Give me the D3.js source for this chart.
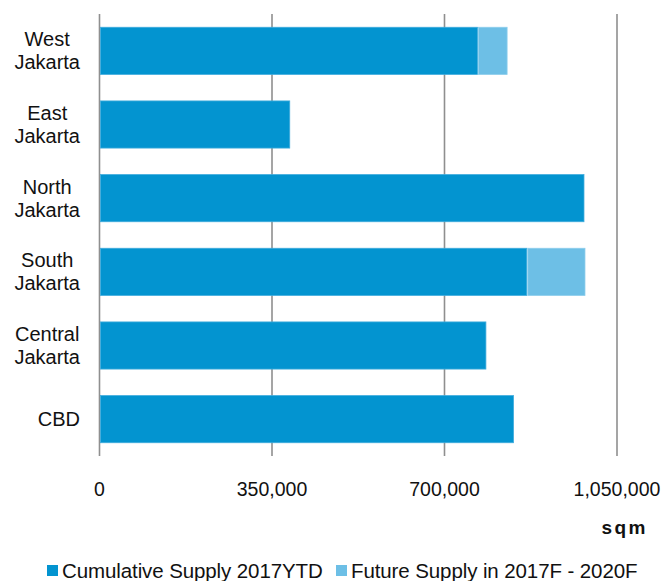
<!DOCTYPE html>
<html lang="en">
<head>
<meta charset="UTF-8">
<title>Jakarta Supply</title>
<script src="https://d3js.org/d3.v7.min.js"></script>
<style>
  body { margin: 0; background: #fff; font-family: 'Liberation Sans', Arial, sans-serif; }
  svg text { fill: #111; }
</style>
</head>
<body>
<svg id="chart" width="663" height="581"></svg>
<script>
// data
let regions = ['West Jakarta', 'East Jakarta', 'North Jakarta', 'South Jakarta', 'Central Jakarta', 'CBD']
let cumulative = [767000, 386000, 983000, 867000, 784000, 840000]
let future = [58000, 0, 0, 116000, 0, 0]
let xTicks = [0, 350000, 700000, 1050000]
let seriesNames = ['Cumulative Supply 2017YTD', 'Future Supply in 2017F - 2020F']
let colors = ['#0394d0', '#6dbfe6']

let svg = d3.select('#chart')
let margin = {left: 99.5, right: 46, top: 14, bottom: 125}
let width = 663, height = 581

let x = d3.scaleLinear()
    .domain([0, 1050000])
    .range([margin.left, width - margin.right])
let y = d3.scaleBand()
    .domain(regions)
    .range([margin.top, height - margin.bottom])
    .paddingInner(0.36)
    .paddingOuter(0.18)

// vertical gridlines
svg.append('g')
    .selectAll('line')
    .data(xTicks)
    .join('line')
    .attr('x1', d => x(d)).attr('x2', d => x(d))
    .attr('y1', margin.top).attr('y2', height - margin.bottom)
    .attr('stroke', '#8f8f8f')
    .attr('stroke-width', 1.6)

// stacked bars
let rows = regions.map((r, i) => ({region: r, values: [cumulative[i], future[i]]}))
let bars = svg.append('g')
rows.forEach(row => {
    let start = 0
    row.values.forEach((v, k) => {
        if (v > 0) {
            bars.append('rect')
                .attr('x', x(start) + 1)
                .attr('y', y(row.region))
                .attr('width', x(start + v) - x(start) - (start === 0 ? 1 : 0))
                .attr('height', y.bandwidth())
                .attr('fill', colors[k])
                .attr('stroke', k === 0 ? '#3fabdc' : '#8ccdec')
                .attr('stroke-width', 0.8)
        }
        start += v
    })
})

// category labels: block right aligned, lines centred
let labelG = svg.append('g')
regions.forEach(r => {
    let words = r.split(' ')
    let g = labelG.append('g')
    let cy = y(r) + y.bandwidth() / 2
    let lineH = 23.3
    let texts = words.map((w, i) => g.append('text')
        .attr('y', cy + 7 + (i - (words.length - 1) / 2) * lineH)
        .attr('text-anchor', 'middle')
        .style('font-size', '20px')
        .text(w))
    let maxW = d3.max(texts, t => t.node().getComputedTextLength())
    texts.forEach(t => t.attr('x', 80 - maxW / 2))
})

// x tick labels
svg.append('g')
    .selectAll('text')
    .data(xTicks)
    .join('text')
    .attr('x', d => x(d))
    .attr('y', 496)
    .attr('text-anchor', 'middle')
    .style('font-size', '19.5px')
    .text(d => d3.format(',')(d))

// unit
svg.append('text')
    .attr('x', 648)
    .attr('y', 534)
    .attr('text-anchor', 'end')
    .style('font-size', '19px')
    .style('font-weight', 'bold')
    .style('letter-spacing', '2.5px')
    .text('sqm')

// legend
let legendX = [47, 336]
let legend = svg.append('g')
seriesNames.forEach((name, i) => {
    legend.append('rect')
        .attr('x', legendX[i]).attr('y', 565)
        .attr('width', 11).attr('height', 11)
        .attr('fill', colors[i])
    legend.append('text')
        .attr('x', legendX[i] + 15)
        .attr('y', 578)
        .style('font-size', '20.5px')
        .style('letter-spacing', '-0.1px')
        .text(name)
})
</script>
</body>
</html>
